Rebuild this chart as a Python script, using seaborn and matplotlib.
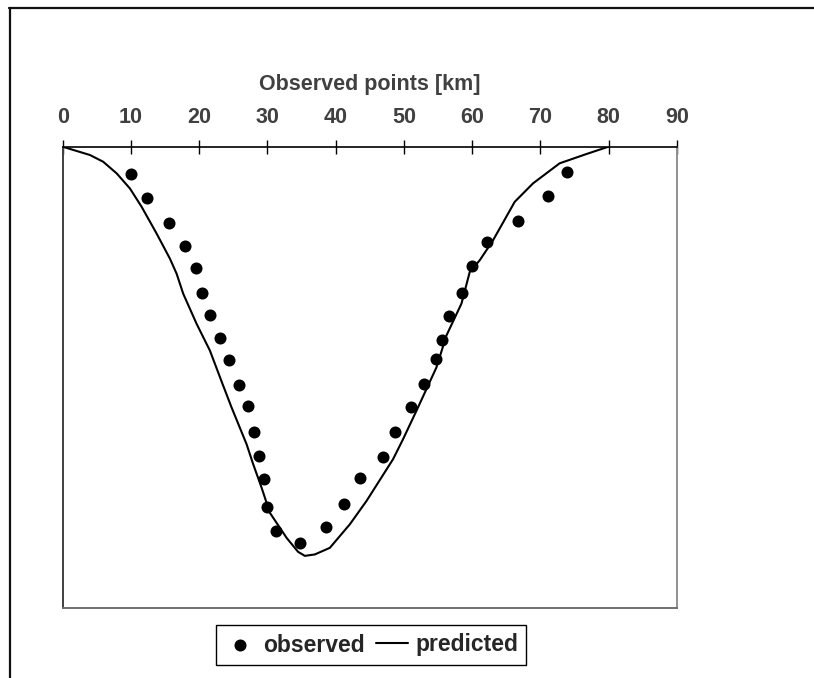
import matplotlib
matplotlib.use("Agg")
import matplotlib.pyplot as plt
from matplotlib.lines import Line2D
import seaborn as sns
import pandas as pd

# Observed points (x in km, y = normalized depth, 0 at top)
obs_x = [10.0, 12.39, 15.61, 17.86, 19.47, 20.44, 21.61, 23.07, 24.35, 25.81,
         27.09, 28.01, 28.70, 29.43, 29.96, 31.27, 34.79, 38.51, 41.23, 43.53,
         47.0, 48.65, 51.04, 52.9, 54.66, 55.58, 56.66, 58.46, 59.93, 62.17,
         66.71, 71.1, 73.84]
obs_y = [6.0, 11.08, 16.5, 21.57, 26.35, 31.63, 36.56, 41.41, 46.19, 51.62,
         56.18, 61.76, 66.98, 72.04, 78.0, 83.27, 85.94, 82.34, 77.34, 71.76,
         67.2, 61.7, 56.48, 51.34, 46.06, 41.93, 36.63, 31.63, 25.92, 20.64,
         15.99, 10.78, 5.56]

# Predicted curve
pred_x = [0.0, 4.0, 5.94, 7.91, 9.85, 11.57, 13.76, 15.71, 16.69, 17.66,
          19.62, 21.57, 23.33, 24.74, 26.94, 27.91, 29.14, 30.35, 32.8, 34.49,
          35.48, 36.94, 39.14, 42.06, 44.51, 48.4, 49.87, 51.83, 54.76, 56.22,
          58.42, 59.63, 61.1, 63.05, 66.22, 68.9, 72.8, 76.72, 79.94]
pred_y = [0.0, 1.8, 3.26, 5.78, 9.04, 13.03, 18.81, 24.25, 27.5, 31.85,
          38.37, 44.17, 51.05, 56.48, 64.44, 68.78, 73.86, 79.3, 84.73, 87.77,
          88.64, 88.33, 86.9, 81.82, 76.75, 67.7, 63.35, 57.2, 47.8, 40.9,
          34.0, 27.16, 24.6, 20.27, 11.95, 7.95, 3.6, 1.59, 0.0]

x_ticks = [0, 10, 20, 30, 40, 50, 60, 70, 80, 90]

sns.set_theme(style="white")
plt.rcParams["font.family"] = ["Liberation Sans", "DejaVu Sans"]

fig = plt.figure(figsize=(8.14, 6.78), dpi=100)
ax = fig.add_axes([0.0770, 0.1028, 0.8317 - 0.0770, 0.7836 - 0.1028])

obs_df = pd.DataFrame({"x": obs_x, "y": obs_y})
pred_df = pd.DataFrame({"x": pred_x, "y": pred_y})

sns.lineplot(data=pred_df, x="x", y="y", sort=False, color="black",
             linewidth=1.5, ax=ax, label="predicted", zorder=2)
sns.scatterplot(data=obs_df, x="x", y="y", color="black", s=75,
                linewidth=0, ax=ax, label="observed", zorder=3)

ax.set_xlim(0, 90)
ax.set_ylim(100, 0)
ax.set_xticks(x_ticks)
ax.set_xticklabels([str(t) for t in x_ticks])
ax.xaxis.tick_top()
ax.xaxis.set_label_position("top")
ax.set_xlabel("Observed points [km]", fontsize=15.5, fontweight="bold",
              color="#404040", labelpad=12)
ax.set_ylabel("")
ax.set_yticks([])
ax.tick_params(axis="x", which="major", direction="inout", length=9.5,
               width=1, color="black", labelsize=15.5, labelcolor="#404040",
               pad=9, top=True, bottom=False)
for lbl in ax.get_xticklabels():
    lbl.set_fontweight("bold")

ax.spines["top"].set_color("black")
ax.spines["top"].set_linewidth(1.2)
ax.spines["left"].set_color("#404040")
ax.spines["left"].set_linewidth(1.4)
ax.spines["right"].set_color("#909090")
ax.spines["right"].set_linewidth(1.4)
ax.spines["bottom"].set_color("#707070")
ax.spines["bottom"].set_linewidth(1.4)
ax.grid(False)

handles, labels = ax.get_legend_handles_labels()
order = [labels.index("observed"), labels.index("predicted")]
leg = ax.legend([handles[i] for i in order], [labels[i] for i in order],
                loc="center", bbox_to_anchor=(371 / 814, 1 - 645 / 678),
                bbox_transform=fig.transFigure, ncol=2, frameon=True,
                fancybox=False, edgecolor="black", framealpha=1,
                prop={"family": ["Liberation Sans"], "weight": "bold", "size": 16.5},
                handlelength=1.4, handletextpad=0.3, columnspacing=0.5,
                borderpad=0.35, borderaxespad=0)
leg.get_frame().set_linewidth(1.0)

# outer frame lines (top and left)
fig.add_artist(Line2D([9 / 814, 1.0], [1 - 7.5 / 678, 1 - 7.5 / 678],
                      transform=fig.transFigure, color="#111111", linewidth=1.6))
fig.add_artist(Line2D([10 / 814, 10 / 814], [1 - 7.5 / 678, 0.0],
                      transform=fig.transFigure, color="#111111", linewidth=1.6))

fig.savefig("out.png", dpi=100, facecolor="white")
